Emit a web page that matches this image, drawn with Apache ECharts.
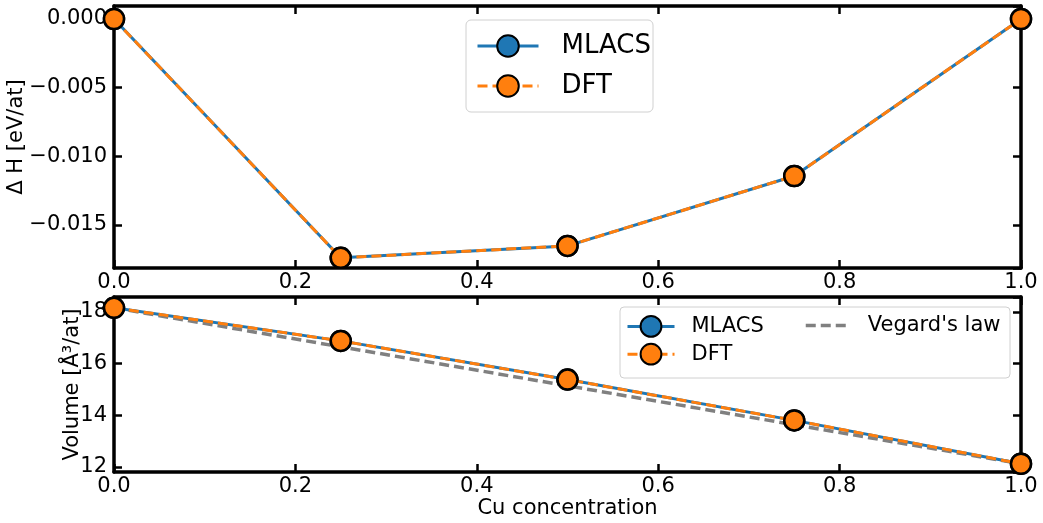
<!DOCTYPE html>
<html lang="en">
  <head>
    <meta charset="UTF-8" />
    <script src="https://cdn.jsdelivr.net/npm/echarts@6/dist/echarts.min.js"></script>
    <title>MLACS vs DFT</title>
    <style>
      html, body { margin: 0; padding: 0; background: #fff; }
    </style>
  </head>
  <body>
    <div id="main" style="width: 1043px; height: 523px"></div>
    <script>
      // Cu concentration
      const conc = [0.0, 0.25, 0.5, 0.75, 1.0];
      // formation enthalpy [eV/at]
      const dhMlacs = [0.0, -0.01739, -0.01652, -0.01143, 0.0];
      const dhDft = [0.0, -0.01739, -0.01652, -0.01143, 0.0];
      // volume [A^3/at]
      const volMlacs = [18.16, 16.88, 15.38, 13.80, 12.12];
      const volDft = [18.16, 16.88, 15.38, 13.80, 12.12];
      const volVegard = [18.16, 16.65, 15.14, 13.63, 12.12];

      const font = "DejaVu Sans";
      const blue = "#1f77b4";
      const orange = "#ff7f0e";

      const pairs = (xs, ys) => xs.map((x, i) => [x, ys[i]]);
      const minus = (s) => s.replace("-", "\u2212");

      function frameAxis(grid, pos, extra) {
        return Object.assign(
          {
            gridIndex: grid,
            type: "value",
            position: pos,
            axisLine: { show: true, onZero: false, lineStyle: { color: "#000", width: 3.5 } },
            axisTick: { show: true, inside: true, length: 8, lineStyle: { color: "#000", width: 2.5 } },
            axisLabel: { show: false },
            splitLine: { show: false },
          },
          extra
        );
      }

      const xBase = { min: 0, max: 1, interval: 0.2 };
      const xLabel = {
        show: true, color: "#000", fontSize: 21, fontFamily: font, margin: 4,
        formatter: (v) => v.toFixed(1),
      };
      const yTop = { min: -0.01813, max: 0.00095, splitNumber: 4, minInterval: 0.005, maxInterval: 0.005 };
      const yBot = { min: 11.8, max: 18.58, splitNumber: 4, minInterval: 2, maxInterval: 2 };
      const nameStyle = { color: "#000", fontSize: 21, fontFamily: font };

      const marker = (c) => ({ color: c, borderColor: "#000", borderWidth: 2.5 });

      const chart = echarts.init(document.getElementById("main"));
      chart.setOption({
        animation: false,
        backgroundColor: "#fff",
        textStyle: { fontFamily: font },
        grid: [
          { left: 114, right: 22, top: 6, height: 262, containLabel: false, outerBoundsMode: "none" },
          { left: 114, right: 22, top: 297, height: 175, containLabel: false, outerBoundsMode: "none" },
        ],
        xAxis: [
          frameAxis(0, "bottom", Object.assign({}, xBase, { axisLabel: xLabel })),
          frameAxis(0, "top", xBase),
          frameAxis(1, "bottom", Object.assign({}, xBase, {
            axisLabel: xLabel,
            name: "Cu concentration",
            nameLocation: "middle",
            nameGap: 26,
            nameMoveOverlap: false,
            nameTextStyle: nameStyle,
          })),
          frameAxis(1, "top", xBase),
        ],
        yAxis: [
          frameAxis(0, "left", Object.assign({}, yTop, {
            axisLabel: {
              show: true, color: "#000", fontSize: 21, fontFamily: font, margin: 7,
              showMinLabel: false, showMaxLabel: false,
              formatter: (v) => (Math.abs(v) < 1e-9 ? "0.000" : minus(v.toFixed(3))),
            },
            name: "\u0394 H [eV/at]",
            nameLocation: "middle",
            nameGap: 87,
            nameMoveOverlap: false,
            nameTextStyle: nameStyle,
          })),
          frameAxis(0, "right", yTop),
          frameAxis(1, "left", Object.assign({}, yBot, {
            axisLabel: {
              show: true, color: "#000", fontSize: 21, fontFamily: font, margin: 7,
              showMinLabel: false, showMaxLabel: false,
              formatter: (v) => v.toFixed(0),
            },
            name: "Volume [\u00C5\u00B3/at]",
            nameLocation: "middle",
            nameGap: 31,
            nameMoveOverlap: false,
            nameTextStyle: nameStyle,
          })),
          frameAxis(1, "right", yBot),
        ],
        legend: [
          {
            data: ["MLACS", "DFT"],
            orient: "vertical",
            left: 466,
            top: 20,
            padding: [13, 2, 13, 10],
            itemWidth: 61,
            itemHeight: 27,
            itemGap: 14,
            backgroundColor: "#fff",
            borderColor: "#d0d0d0",
            borderWidth: 1,
            borderRadius: 5,
            lineStyle: { width: 3 },
            textStyle: { color: "#000", fontSize: 26, fontFamily: font, padding: [0, 0, 0, 18] },
          },
          {
            data: ["MLACS", "DFT"],
            orient: "vertical",
            left: 626,
            top: 315,
            padding: 0,
            itemWidth: 47,
            itemHeight: 26,
            itemGap: 5,
            lineStyle: { width: 3 },
            textStyle: { color: "#000", fontSize: 21, fontFamily: font, padding: [0, 0, 0, 12] },
          },
          {
            data: ["Vegard's law"],
            orient: "vertical",
            left: 804,
            top: 315,
            padding: 0,
            itemWidth: 45,
            itemHeight: 26,
            itemStyle: { color: "rgba(0,0,0,0)", borderWidth: 0 },
            lineStyle: { width: 3.5 },
            textStyle: { color: "#000", fontSize: 21, fontFamily: font, padding: [0, 0, 0, 12] },
          },
        ],
        graphic: [
          {
            type: "rect",
            z: 0,
            shape: { x: 620, y: 307, width: 390, height: 71, r: 4 },
            style: { fill: "#fff", stroke: "#d0d0d0", lineWidth: 1 },
          },
        ],
        series: [
          {
            name: "MLACS", type: "line", xAxisIndex: 0, yAxisIndex: 0,
            data: pairs(conc, dhMlacs), symbol: "circle", symbolSize: 20,
            lineStyle: { color: blue, width: 3 }, itemStyle: marker(blue), z: 3,
          },
          {
            name: "DFT", type: "line", xAxisIndex: 0, yAxisIndex: 0,
            data: pairs(conc, dhDft), symbol: "circle", symbolSize: 20,
            lineStyle: { color: orange, width: 3, type: [10, 5] }, itemStyle: marker(orange), z: 4,
          },
          {
            name: "Vegard's law", type: "line", xAxisIndex: 2, yAxisIndex: 2,
            data: pairs(conc, volVegard), symbol: "none",
            lineStyle: { color: "#808080", width: 3.5, type: [10, 5] }, itemStyle: { color: "#808080" }, z: 2,
          },
          {
            name: "MLACS", type: "line", xAxisIndex: 2, yAxisIndex: 2,
            data: pairs(conc, volMlacs), symbol: "circle", symbolSize: 20,
            lineStyle: { color: blue, width: 3 }, itemStyle: marker(blue), z: 3,
          },
          {
            name: "DFT", type: "line", xAxisIndex: 2, yAxisIndex: 2,
            data: pairs(conc, volDft), symbol: "circle", symbolSize: 20,
            lineStyle: { color: orange, width: 3, type: [10, 5] }, itemStyle: marker(orange), z: 4,
          },
        ],
      });
    </script>
  </body>
</html>
